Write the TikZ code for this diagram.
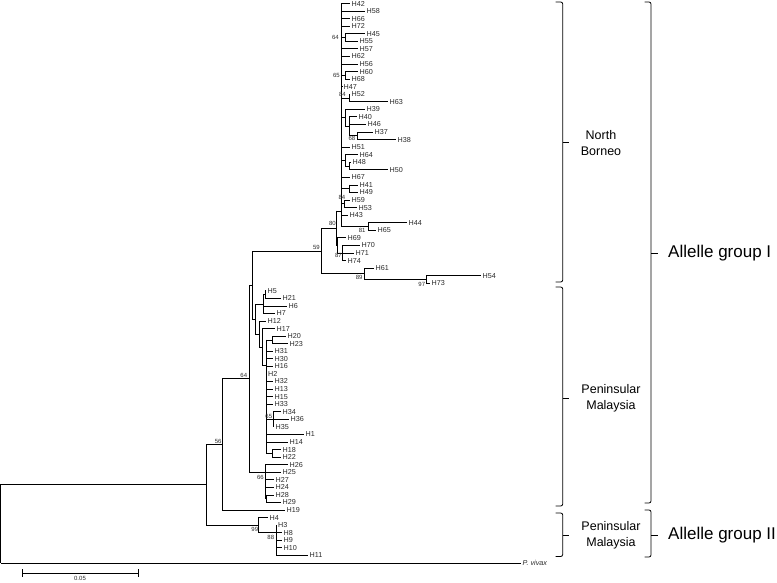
\documentclass[tikz,border=0pt]{standalone}
\usepackage{fontspec}
\setmainfont{Liberation Sans}
\usepackage{tikz}
\usetikzlibrary{calc}
\definecolor{inkgray}{HTML}{2A2A2A}
\tikzset{
  br/.style={line width=0.8pt, draw=black},
  tip/.style={anchor=west, inner sep=1.5pt, font=\fontsize{7.2}{8}\selectfont, text=inkgray},
  boot/.style={anchor=east, inner sep=0pt, font=\fontsize{6}{6}\selectfont, text=inkgray},
  brace/.style={line width=0.8pt, rounded corners=2pt},
  region/.style={align=center, font=\fontsize{12.5}{16}\selectfont},
  group/.style={anchor=west, inner sep=0pt, font=\fontsize{17}{20}\selectfont},
}

\begin{document}
\begin{tikzpicture}[x=1pt, y=-1pt]
  \useasboundingbox (0,0) rectangle (777,583);
  % internal nodes of the tree
  \coordinate (root) at (0.8,523.8);
  \coordinate (n206) at (206,484.6);
  \coordinate (n56) at (222,444.3);
  \coordinate (n64) at (249,378.5);
  \coordinate (nX) at (252,285);
  \coordinate (n59) at (321,251);
  \coordinate (n80) at (336,228.2);
  \coordinate (nb) at (341.5,211);
  \coordinate (n64u) at (345,37.52);
  \coordinate (n65u) at (345,75.32);
  \coordinate (n84a) at (349,98);
  \coordinate (n39) at (345,117.85);
  \coordinate (n40) at (349,126.35);
  \coordinate (n68) at (357,135.8);
  \coordinate (n64b) at (345,160.37);
  \coordinate (n48) at (349,166.04);
  \coordinate (n41) at (349,188.72);
  \coordinate (n84b) at (344,203.84);
  \coordinate (n81) at (368,226.52);
  \coordinate (n69) at (337,245.42);
  \coordinate (n87) at (342,252.98);
  \coordinate (n89) at (364,273.77);
  \coordinate (n97) at (426,279.44);
  \coordinate (nP) at (255,319);
  \coordinate (nA) at (263,304);
  \coordinate (nA1) at (265,294.56);
  \coordinate (nB) at (259,334);
  \coordinate (nC) at (262,347);
  \coordinate (nD) at (266,365.4);
  \coordinate (nE) at (272,339.92);
  \coordinate (n65) at (273,419.3);
  \coordinate (nF) at (272,453.32);
  \coordinate (n66) at (265,472);
  \coordinate (nG) at (266.5,498.68);
  \coordinate (n99) at (258,525);
  \coordinate (n88) at (276,532.4);

  % tips: name / row / branch end / parent
  \foreach \nm/\ix/\ex/\pa in {H42/0/350/nb, H58/1/365/nb, H66/2/350/nb, H72/3/350/nb,
      H45/4/365/n64u, H55/5/358/n64u, H57/6/358/nb, H62/7/350/nb, H56/8/358/nb,
      H60/9/358/n65u, H68/10/350/n65u, H47/11/342/nb, H52/12/350/n84a, H63/13/388/n84a,
      H39/14/365/n39, H40/15/357/n40, H46/16/366/n40, H37/17/373/n68, H38/18/396/n68,
      H51/19/350/nb, H64/20/358/n64b, H48/21/351/n48, H50/22/388/n48, H67/23/350/nb,
      H41/24/358/n41, H49/25/358/n41, H59/26/350/n84b, H53/27/357/n84b, H43/28/348/nb,
      H44/29/407/n81, H65/30/376/n81, H69/31/346/n69, H70/32/360/n87, H71/33/354/n87,
      H74/34/346/n87, H61/35/374/n89, H54/36/481/n97, H73/37/430/n97,
      H5/38/266/nA1, H21/39/281/nA1, H6/40/287/nA, H7/41/275/nA, H12/42/266/nB,
      H17/43/275/nC, H20/44/286/nE, H23/45/288/nE, H31/46/273/nD, H30/47/273/nD,
      H16/48/273/nD, H2/49/266.5/nD, H32/50/273/nD, H13/51/273/nD, H15/52/273/nD,
      H33/53/273/nD, H34/54/281/n65, H36/55/289/n65, H35/56/274/n65, H1/57/304/nD,
      H14/58/288/nD, H18/59/281/nF, H22/60/281/nF, H26/61/288/n66, H25/62/281/n66,
      H27/63/274/n66, H24/64/274/n66, H28/65/274/nG, H29/66/281/nG, H19/67/285/n56,
      H4/68/268/n99, H3/69/276.5/n88, H8/70/282/n88, H9/71/282/n88, H10/72/282/n88,
      H11/73/308/n88} {
    \node[tip] (\nm) at (\ex,{3.5+7.56*\ix}) {\nm};
    \draw[br] (\pa |- \nm.west) -- (\nm.west);
  }
  \node[tip, font=\fontsize{7.2}{8}\selectfont\itshape] (pviv) at (521,562.94) {P. vivax};
  \draw[br] (root |- pviv.west) -- (pviv.west);

  % stems
  \foreach \pa/\ch in {root/n206, n206/n56, n206/n99, n56/n64, n64/nX, n64/n66, nX/n59,
      nX/nP, n59/n80, n59/n89, n80/nb, n80/n69, n69/n87, n89/n97, nb/n64u, nb/n65u,
      nb/n84a, nb/n39, n39/n40, n40/n68, nb/n64b, n64b/n48, nb/n41, nb/n84b, nb/n81,
      nP/nA, nA/nA1, nP/nB, nB/nC, nC/nD, nD/nE, nD/n65, nD/nF, n66/nG, n99/n88}
    \draw[br] (\pa |- \ch) -- (\ch);
  % vertical bars
  \foreach \nd/\up/\dn in {root/n206/pviv.west, n206/n56/n99, n56/n64/H19.west, n64/nX/n66,
      nX/n59/nP, n59/n80/n89, n80/nb/n69, nb/H42.west/n81, n64u/H45.west/H55.west,
      n65u/H60.west/H68.west, n84a/H52.west/H63.west, n39/H39.west/n40, n40/H40.west/n68,
      n68/H37.west/H38.west, n64b/H64.west/n48, n48/H48.west/H50.west, n41/H41.west/H49.west,
      n84b/H59.west/H53.west, n81/H44.west/H65.west, n69/H69.west/n87, n87/H70.west/H74.west,
      n89/H61.west/n97, n97/H54.west/H73.west, nP/nA/nB, nA/nA1/H7.west, nA1/H5.west/H21.west,
      nB/H12.west/nC, nC/H17.west/nD, nD/nE/nF, nE/H20.west/H23.west, n65/H34.west/H35.west,
      nF/H18.west/H22.west, n66/H26.west/nG, nG/H28.west/H29.west, n99/H4.west/n88,
      n88/H3.west/H11.west}
    \draw[br, line cap=rect] (\nd |- \up) -- (\nd |- \dn);

  % bootstrap values
  \foreach \v/\bx/\by [count=\k] in {64/339/37.3, 65/340/75, 84/346/94, 68/355.5/138.5,
      84/345.5/197.3, 80/336/223.3, 81/365.7/230, 87/342/255.7, 59/320/247.5,
      89/362.7/277.7, 97/425.3/284.3, 64/247.3/375.7, 65/272.3/416, 56/221.7/441,
      66/264/477.3, 99/258.3/529.3, 88/274.3/537.7}
    \node[boot] (bs\k) at (\bx,\by) {\v};

  % scale bar
  \coordinate (sbl) at (22,573);
  \coordinate (sbr) at (138,573);
  \draw[br] (sbl) -- (sbr);
  \draw[br] ($(sbl)+(0,-4)$) -- ($(sbl)+(0,4)$);
  \draw[br] ($(sbr)+(0,-4)$) -- ($(sbr)+(0,4)$);
  \node[boot, anchor=north] (sblab) at (80,576.5) {0.05};

  % region brackets
  \draw[brace] (555.5,2) -| (562.7,282) -- (555.5,282);
  \draw[brace] (562.7,142) -- (569,142);
  \node[region] (nbor) at (601,143) {North\\Borneo};
  \draw[brace] (555.5,287) -| (562.7,506) -- (555.5,506);
  \draw[brace] (562.7,398) -- (569,398);
  \node[region] (pm1) at (611,398) {Peninsular\\Malaysia};
  \draw[brace] (555.5,513) -| (562.7,556.5) -- (555.5,556.5);
  \draw[brace] (562.7,535) -- (569,535);
  \node[region] (pm2) at (611,535) {Peninsular\\Malaysia};
  % allele groups
  \draw[brace] (644.5,2) -| (651,503) -- (644.5,503);
  \draw[brace] (651,253) -- (658,253);
  \node[group] (grpI) at (668,253) {Allelle group I};
  \draw[brace] (644.5,510) -| (651,557) -- (644.5,557);
  \draw[brace] (651,535) -- (658,535);
  \node[group] (grpII) at (668,535) {Allelle group II};
\end{tikzpicture}
\end{document}
